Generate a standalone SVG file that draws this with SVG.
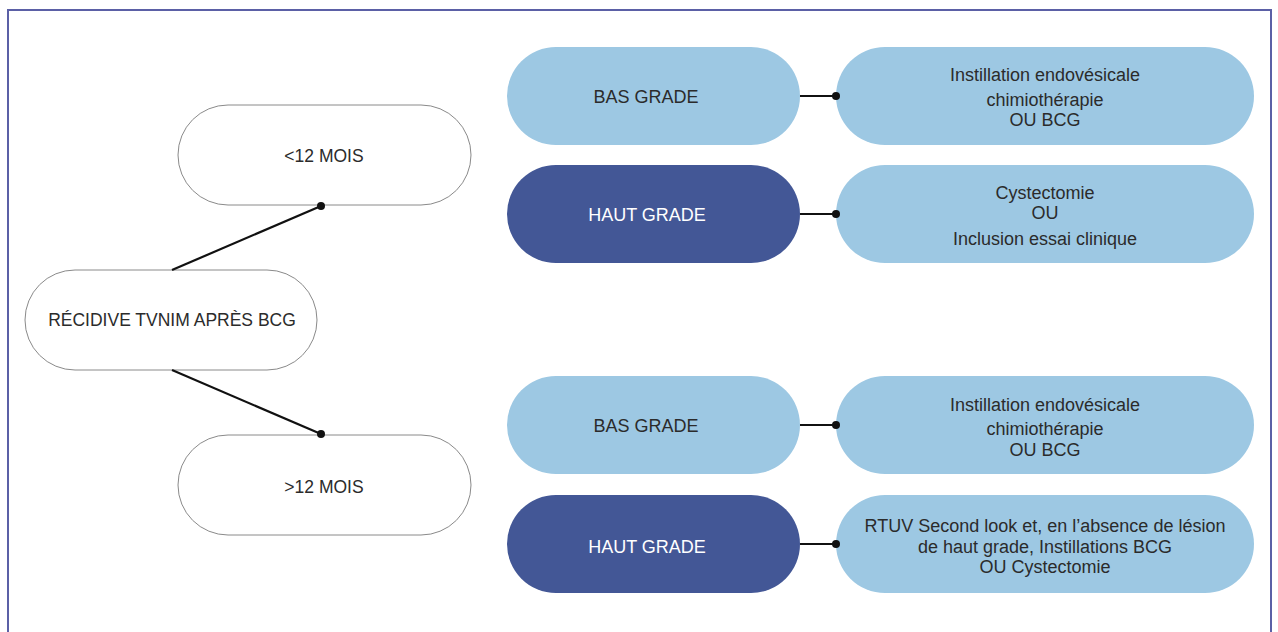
<svg xmlns="http://www.w3.org/2000/svg" width="1278" height="632" viewBox="0 0 1278 632">
<defs>
<style>
.t{font-family:"Liberation Sans",Arial,sans-serif;font-size:18px;fill:#2b2b2b;text-anchor:middle}
.s{font-size:17.5px}
.w{fill:#ffffff}
.pw{fill:#ffffff;stroke:#8a8a8a;stroke-width:1}
.pl{fill:#9dc8e3}
.pd{fill:#435796}
.c{stroke:#111;stroke-width:2.2;fill:none}
.d{fill:#111}
</style>
</defs>
<rect x="0" y="0" width="1278" height="632" fill="#ffffff"/>
<path d="M8 640 V10 H1271 V640" fill="none" stroke="#5b60a6" stroke-width="2"/>
<g id="n-recidive"><rect class="pw" x="25" y="270" width="292" height="100" rx="50"/><text class="t s" x="172" y="326">RÉCIDIVE TVNIM APRÈS BCG</text></g>
<g id="n-lt12"><rect class="pw" x="178" y="105" width="293" height="100" rx="50"/><text class="t s" x="324" y="162">&lt;12 MOIS</text></g>
<g id="n-gt12"><rect class="pw" x="178" y="435" width="293" height="100" rx="50"/><text class="t s" x="324" y="493">&gt;12 MOIS</text></g>
<g id="n-bas1"><rect class="pl" x="507" y="47" width="293" height="98" rx="49"/><text class="t" x="646" y="103">BAS GRADE</text></g>
<g id="n-haut1"><rect class="pd" x="507" y="165" width="293" height="98" rx="49"/><text class="t w" x="647" y="221">HAUT GRADE</text></g>
<g id="n-bas2"><rect class="pl" x="507" y="376" width="293" height="98" rx="49"/><text class="t" x="646" y="432">BAS GRADE</text></g>
<g id="n-haut2"><rect class="pd" x="507" y="495" width="293" height="98" rx="49"/><text class="t w" x="647" y="553">HAUT GRADE</text></g>
<g id="n-r1"><rect class="pl" x="836" y="47" width="418" height="98" rx="49"/><text class="t"><tspan x="1045" y="81">Instillation endovésicale</tspan><tspan x="1045" y="106">chimiothérapie</tspan><tspan x="1045" y="126">OU BCG</tspan></text></g>
<g id="n-r2"><rect class="pl" x="836" y="165" width="418" height="98" rx="49"/><text class="t"><tspan x="1045" y="199">Cystectomie</tspan><tspan x="1045" y="219">OU</tspan><tspan x="1045" y="245">Inclusion essai clinique</tspan></text></g>
<g id="n-r3"><rect class="pl" x="836" y="376" width="418" height="98" rx="49"/><text class="t"><tspan x="1045" y="411">Instillation endovésicale</tspan><tspan x="1045" y="435">chimiothérapie</tspan><tspan x="1045" y="456">OU BCG</tspan></text></g>
<g id="n-r4"><rect class="pl" x="836" y="495" width="418" height="98" rx="49"/><text class="t"><tspan x="1045" y="532">RTUV Second look et, en l’absence de lésion</tspan><tspan x="1045" y="553">de haut grade, Instillations BCG</tspan><tspan x="1045" y="573">OU Cystectomie</tspan></text></g>
<g id="connectors">
<line class="c" x1="172" y1="270" x2="321" y2="206"/><circle class="d" cx="321" cy="206" r="4"/>
<line class="c" x1="172" y1="370" x2="321" y2="434"/><circle class="d" cx="321" cy="434" r="4"/>
<line class="c" x1="800" y1="96" x2="836" y2="96"/><circle class="d" cx="836" cy="96" r="4"/>
<line class="c" x1="800" y1="214" x2="836" y2="214"/><circle class="d" cx="836" cy="214" r="4"/>
<line class="c" x1="800" y1="425" x2="836" y2="425"/><circle class="d" cx="836" cy="425" r="4"/>
<line class="c" x1="800" y1="544" x2="836" y2="544"/><circle class="d" cx="836" cy="544" r="4"/>
</g>
</svg>
